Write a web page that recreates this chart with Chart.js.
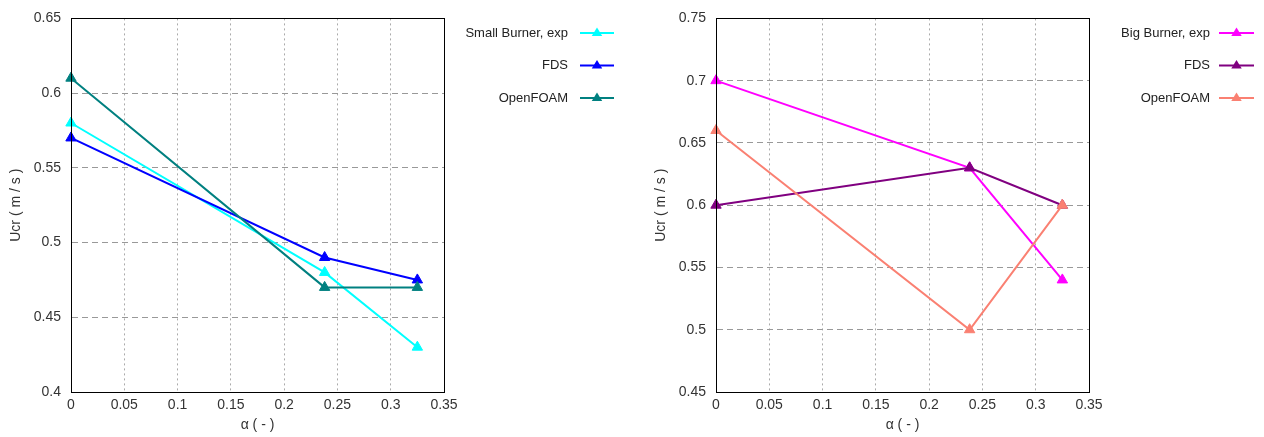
<!DOCTYPE html>
<html><head><meta charset="utf-8">
<script src="https://cdn.jsdelivr.net/npm/chart.js@4"></script>
<style>
html,body{margin:0;padding:0;background:#fff;width:1264px;height:437px;overflow:hidden}
.box{position:absolute;top:0;height:437px}
</style></head><body>
<div class="box" style="left:0;width:640px"><canvas id="c1"></canvas></div>
<div class="box" style="left:645px;width:619px"><canvas id="c2"></canvas></div>
<script>
const alpha = [0, 0.238, 0.325];
const smallExp = [0.58, 0.48, 0.43];
const smallFDS = [0.57, 0.49, 0.475];
const smallOF = [0.61, 0.47, 0.47];
const bigExp = [0.70, 0.63, 0.54];
const bigFDS = [0.60, 0.63, 0.60];
const bigOF = [0.66, 0.50, 0.60];
const leftLabels = ['Small Burner, exp', 'FDS', 'OpenFOAM'];
const rightLabels = ['Big Burner, exp', 'FDS', 'OpenFOAM'];
const xTitle = 'α ( - )';
const yTitle = 'Ucr ( m / s )';

const FONT = "'Liberation Sans', Arial, sans-serif";
const pts = ys => ys.map((y, i) => ({x: alpha[i], y}));
const ds = (label, data, color, idx) => ({
  label, data: pts(data), borderColor: color, backgroundColor: color, order: -idx,
  borderWidth: 2, pointStyle: 'triangle', pointRadius: 6, pointHoverRadius: 6,
  pointBorderWidth: 1, showLine: true, tension: 0, fill: false, clip: false
});

const frameLegend = {
  id: 'frameLegend',
  afterDraw(chart, args, opts) {
    const {ctx, chartArea: a} = chart;
    ctx.save();
    ctx.strokeStyle = '#000'; ctx.lineWidth = 1; ctx.setLineDash([]);
    ctx.strokeRect(Math.round(a.left) + 0.5, Math.round(a.top) + 0.5, Math.round(a.right - a.left), Math.round(a.bottom - a.top));
    ctx.font = '13px ' + FONT;
    ctx.textAlign = 'right'; ctx.textBaseline = 'middle';
    chart.data.datasets.forEach((d, i) => {
      const y = opts.y0 + i * opts.dy;
      ctx.fillStyle = '#222';
      ctx.fillText(d.label, opts.tx, y);
      ctx.strokeStyle = d.borderColor; ctx.lineWidth = 2;
      ctx.beginPath(); ctx.moveTo(opts.l1, y); ctx.lineTo(opts.l2, y); ctx.stroke();
      const cx = (opts.l1 + opts.l2) / 2, r = 5.5;
      ctx.fillStyle = d.borderColor;
      ctx.beginPath();
      ctx.moveTo(cx, y - r); ctx.lineTo(cx + r * 0.95, y + r * 0.55); ctx.lineTo(cx - r * 0.95, y + r * 0.55);
      ctx.closePath(); ctx.fill();
    });
    ctx.restore();
  }
};

function make(id, sets, ymin, ymax, padRight, leg) {
  return new Chart(document.getElementById(id), {
    type: 'scatter',
    data: {datasets: sets},
    options: {
      responsive: true, maintainAspectRatio: false, animation: false,
      layout: {padding: {top: 18, right: padRight, bottom: 0, left: 0}},
      plugins: {legend: {display: false}, tooltip: {enabled: false}, frameLegend: leg},
      scales: {
        x: {
          type: 'linear', min: 0, max: 0.35,
          afterFit: s => { s.height = 45; },
          ticks: {stepSize: 0.05, padding: 5, color: '#333', font: {size: 14, family: FONT},
            callback: v => String(+v.toFixed(2))},
          grid: {color: '#aaa', drawTicks: false, lineWidth: 1},
          border: {display: true, color: '#000', dash: [2, 3]},
          title: {display: true, text: xTitle, color: '#333', font: {size: 14, family: FONT}, padding: {top: 0, bottom: 3}}
        },
        y: {
          type: 'linear', min: ymin, max: ymax,
          afterFit: s => { s.width = 71; },
          ticks: {stepSize: 0.05, padding: 10, color: '#333', font: {size: 14, family: FONT},
            callback: v => String(+v.toFixed(2))},
          grid: {color: '#999', drawTicks: false, lineWidth: 1},
          border: {display: true, color: '#000', dash: [6, 4]},
          title: {display: true, text: yTitle, color: '#333', font: {size: 14, family: FONT}, padding: {top: 8, bottom: 0}}
        }
      }
    },
    plugins: [frameLegend]
  });
}

make('c1', [
  ds(leftLabels[0], smallExp, '#00ffff', 0),
  ds(leftLabels[1], smallFDS, '#0000ff', 1),
  ds(leftLabels[2], smallOF, '#008080', 2)
], 0.4, 0.65, 196, {tx: 568, l1: 580, l2: 614, y0: 33, dy: 32.5});

make('c2', [
  ds(rightLabels[0], bigExp, '#ff00ff', 0),
  ds(rightLabels[1], bigFDS, '#800080', 1),
  ds(rightLabels[2], bigOF, '#fa8072', 2)
], 0.45, 0.75, 175, {tx: 1210 - 645, l1: 1219 - 645, l2: 1254 - 645, y0: 33, dy: 32.5});
</script>
</body></html>
